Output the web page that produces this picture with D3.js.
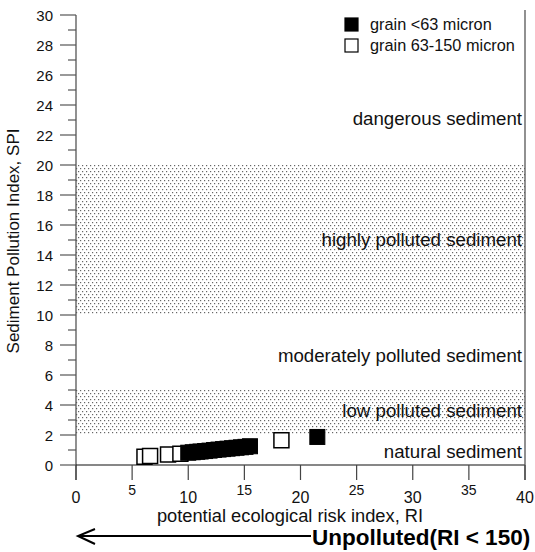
<!DOCTYPE html>
<html><head><meta charset="utf-8">
<script src="https://cdn.jsdelivr.net/npm/d3@7"></script>
<style>body{margin:0;background:#fff}svg text{font-family:Arial,"Liberation Sans",sans-serif}</style>
</head><body><svg id="c" width="535" height="552"></svg>
<script>
const fineX = [10.0,10.4,10.8,11.1,11.5,11.9,12.3,12.7,13.1,13.5,13.9,14.3,14.7,15.1,15.5,21.5];
const fineY = [0.82,0.85,0.88,0.9,0.93,0.96,1.0,1.03,1.06,1.09,1.12,1.15,1.18,1.21,1.25,1.87];
const coarseX = [6.1,6.6,8.2,9.3,18.3];
const coarseY = [0.55,0.6,0.7,0.75,1.65];
const xTicks = [0,5,10,15,20,25,30,35,40];
const yTicks = [0,2,4,6,8,10,12,14,16,18,20,22,24,26,28,30];
const bands = [[2,5],[10,20]];
const zoneLabels = ["dangerous sediment","highly polluted sediment","moderately polluted sediment","low polluted sediment","natural sediment"];
const zoneY = [22.67,14.6,6.87,3.2,0.47];
const legendLabels = ["grain <63 micron","grain 63-150 micron"];

const svg = d3.select("#c");
const x = d3.scaleLinear().domain([0,40]).range([76,525]);
const y = d3.scaleLinear().domain([0,30]).range([465,15]);

const defs = svg.append("defs");
const pat = defs.append("pattern").attr("id","dots").attr("patternUnits","userSpaceOnUse").attr("width",4).attr("height",6);
pat.append("rect").attr("x",0).attr("y",0).attr("width",1.2).attr("height",1.2).attr("fill","#666");
pat.append("rect").attr("x",2).attr("y",3).attr("width",1.2).attr("height",1.2).attr("fill","#666");

svg.selectAll("rect.band").data(bands).enter().append("rect")
  .attr("x",x(0)).attr("width",x(40)-x(0))
  .attr("y",d=>y(d[1])).attr("height",d=>y(d[0])-y(d[1]))
  .attr("fill","url(#dots)");

// zone labels
svg.selectAll("text.zone").data(zoneLabels).enter().append("text")
  .attr("x",522).attr("y",(d,i)=>y(zoneY[i])).attr("text-anchor","end")
  .attr("font-size",18.7).attr("fill","#111").text(d=>d);

// y axis
const gy = svg.append("g").attr("transform","translate(76,0)");
gy.append("line").attr("x1",0).attr("x2",0).attr("y1",15).attr("y2",480).attr("stroke","#555").attr("stroke-width",1.3);
gy.selectAll("line.maj").data(yTicks).enter().append("line")
  .attr("x1",-16).attr("x2",0).attr("y1",d=>y(d)).attr("y2",d=>y(d)).attr("stroke","#555").attr("stroke-width",1.2);
gy.selectAll("line.min").data(d3.range(1,30,2)).enter().append("line")
  .attr("x1",-8).attr("x2",0).attr("y1",d=>y(d)).attr("y2",d=>y(d)).attr("stroke","#555").attr("stroke-width",1.2);
gy.selectAll("text").data(yTicks).enter().append("text")
  .attr("x",-23).attr("y",d=>y(d)+5.5).attr("text-anchor","end").attr("font-size",15).attr("fill","#111").text(d=>d);

// x axis
svg.append("line").attr("x1",76).attr("x2",525).attr("y1",465).attr("y2",465).attr("stroke","#111").attr("stroke-width",1.2);
svg.append("line").attr("x1",525).attr("x2",525).attr("y1",10).attr("y2",480).attr("stroke","#555").attr("stroke-width",1.3);
svg.selectAll("line.xt").data(xTicks).enter().append("line")
  .attr("x1",d=>x(d)).attr("x2",d=>x(d)).attr("y1",465).attr("y2",480).attr("stroke","#444").attr("stroke-width",1.2);
svg.selectAll("text.xt").data(xTicks).enter().append("text")
  .attr("x",d=>x(d)).attr("y",(d,i)=>i%2?495:503).attr("text-anchor","middle")
  .attr("font-size",(d,i)=>i%2?14:16).attr("fill","#111").text(d=>d);

// points
const pts = [];
fineX.forEach((v,i)=>pts.push({x:v,y:fineY[i],f:true}));
coarseX.forEach((v,i)=>pts.push({x:v,y:coarseY[i],f:false}));
const s = 15;
svg.selectAll("rect.open").data(pts.filter(p=>!p.f)).enter().append("rect")
  .attr("x",d=>x(d.x)-s/2).attr("y",d=>y(d.y)-s/2).attr("width",s).attr("height",s)
  .attr("fill","#fff").attr("stroke","#000").attr("stroke-width",1.5);
svg.selectAll("rect.fill").data(pts.filter(p=>p.f)).enter().append("rect")
  .attr("x",d=>x(d.x)-s/2).attr("y",d=>y(d.y)-s/2).attr("width",s).attr("height",s)
  .attr("fill","#000").attr("stroke","#000").attr("stroke-width",1);

// legend
const lg = svg.append("g");
legendLabels.forEach((t,i)=>{
  lg.append("rect").attr("x",345).attr("y",18+i*21).attr("width",13).attr("height",13)
    .attr("fill",i?"#fff":"#000").attr("stroke","#000").attr("stroke-width",1.2);
  lg.append("text").attr("x",370).attr("y",30+i*21).attr("font-size",16.3).attr("fill","#111").text(t);
});

// titles
svg.append("text").attr("transform","translate(19,241) rotate(-90)").attr("text-anchor","middle")
  .attr("font-size",17).attr("fill","#111").text("Sediment Pollution Index, SPI");
svg.append("text").attr("x",290).attr("y",522).attr("text-anchor","middle")
  .attr("font-size",18.3).attr("fill","#111").text("potential ecological risk index, RI");

// arrow
svg.append("line").attr("x1",78).attr("x2",311).attr("y1",536).attr("y2",536).attr("stroke","#000").attr("stroke-width",2);
svg.append("path").attr("d","M95,529 L78,536 L95,544").attr("fill","none").attr("stroke","#000").attr("stroke-width",2);
svg.append("text").attr("x",312).attr("y",545).attr("font-size",22.5).attr("font-weight","bold").attr("fill","#000").text("Unpolluted(RI < 150)");
</script></body></html>
